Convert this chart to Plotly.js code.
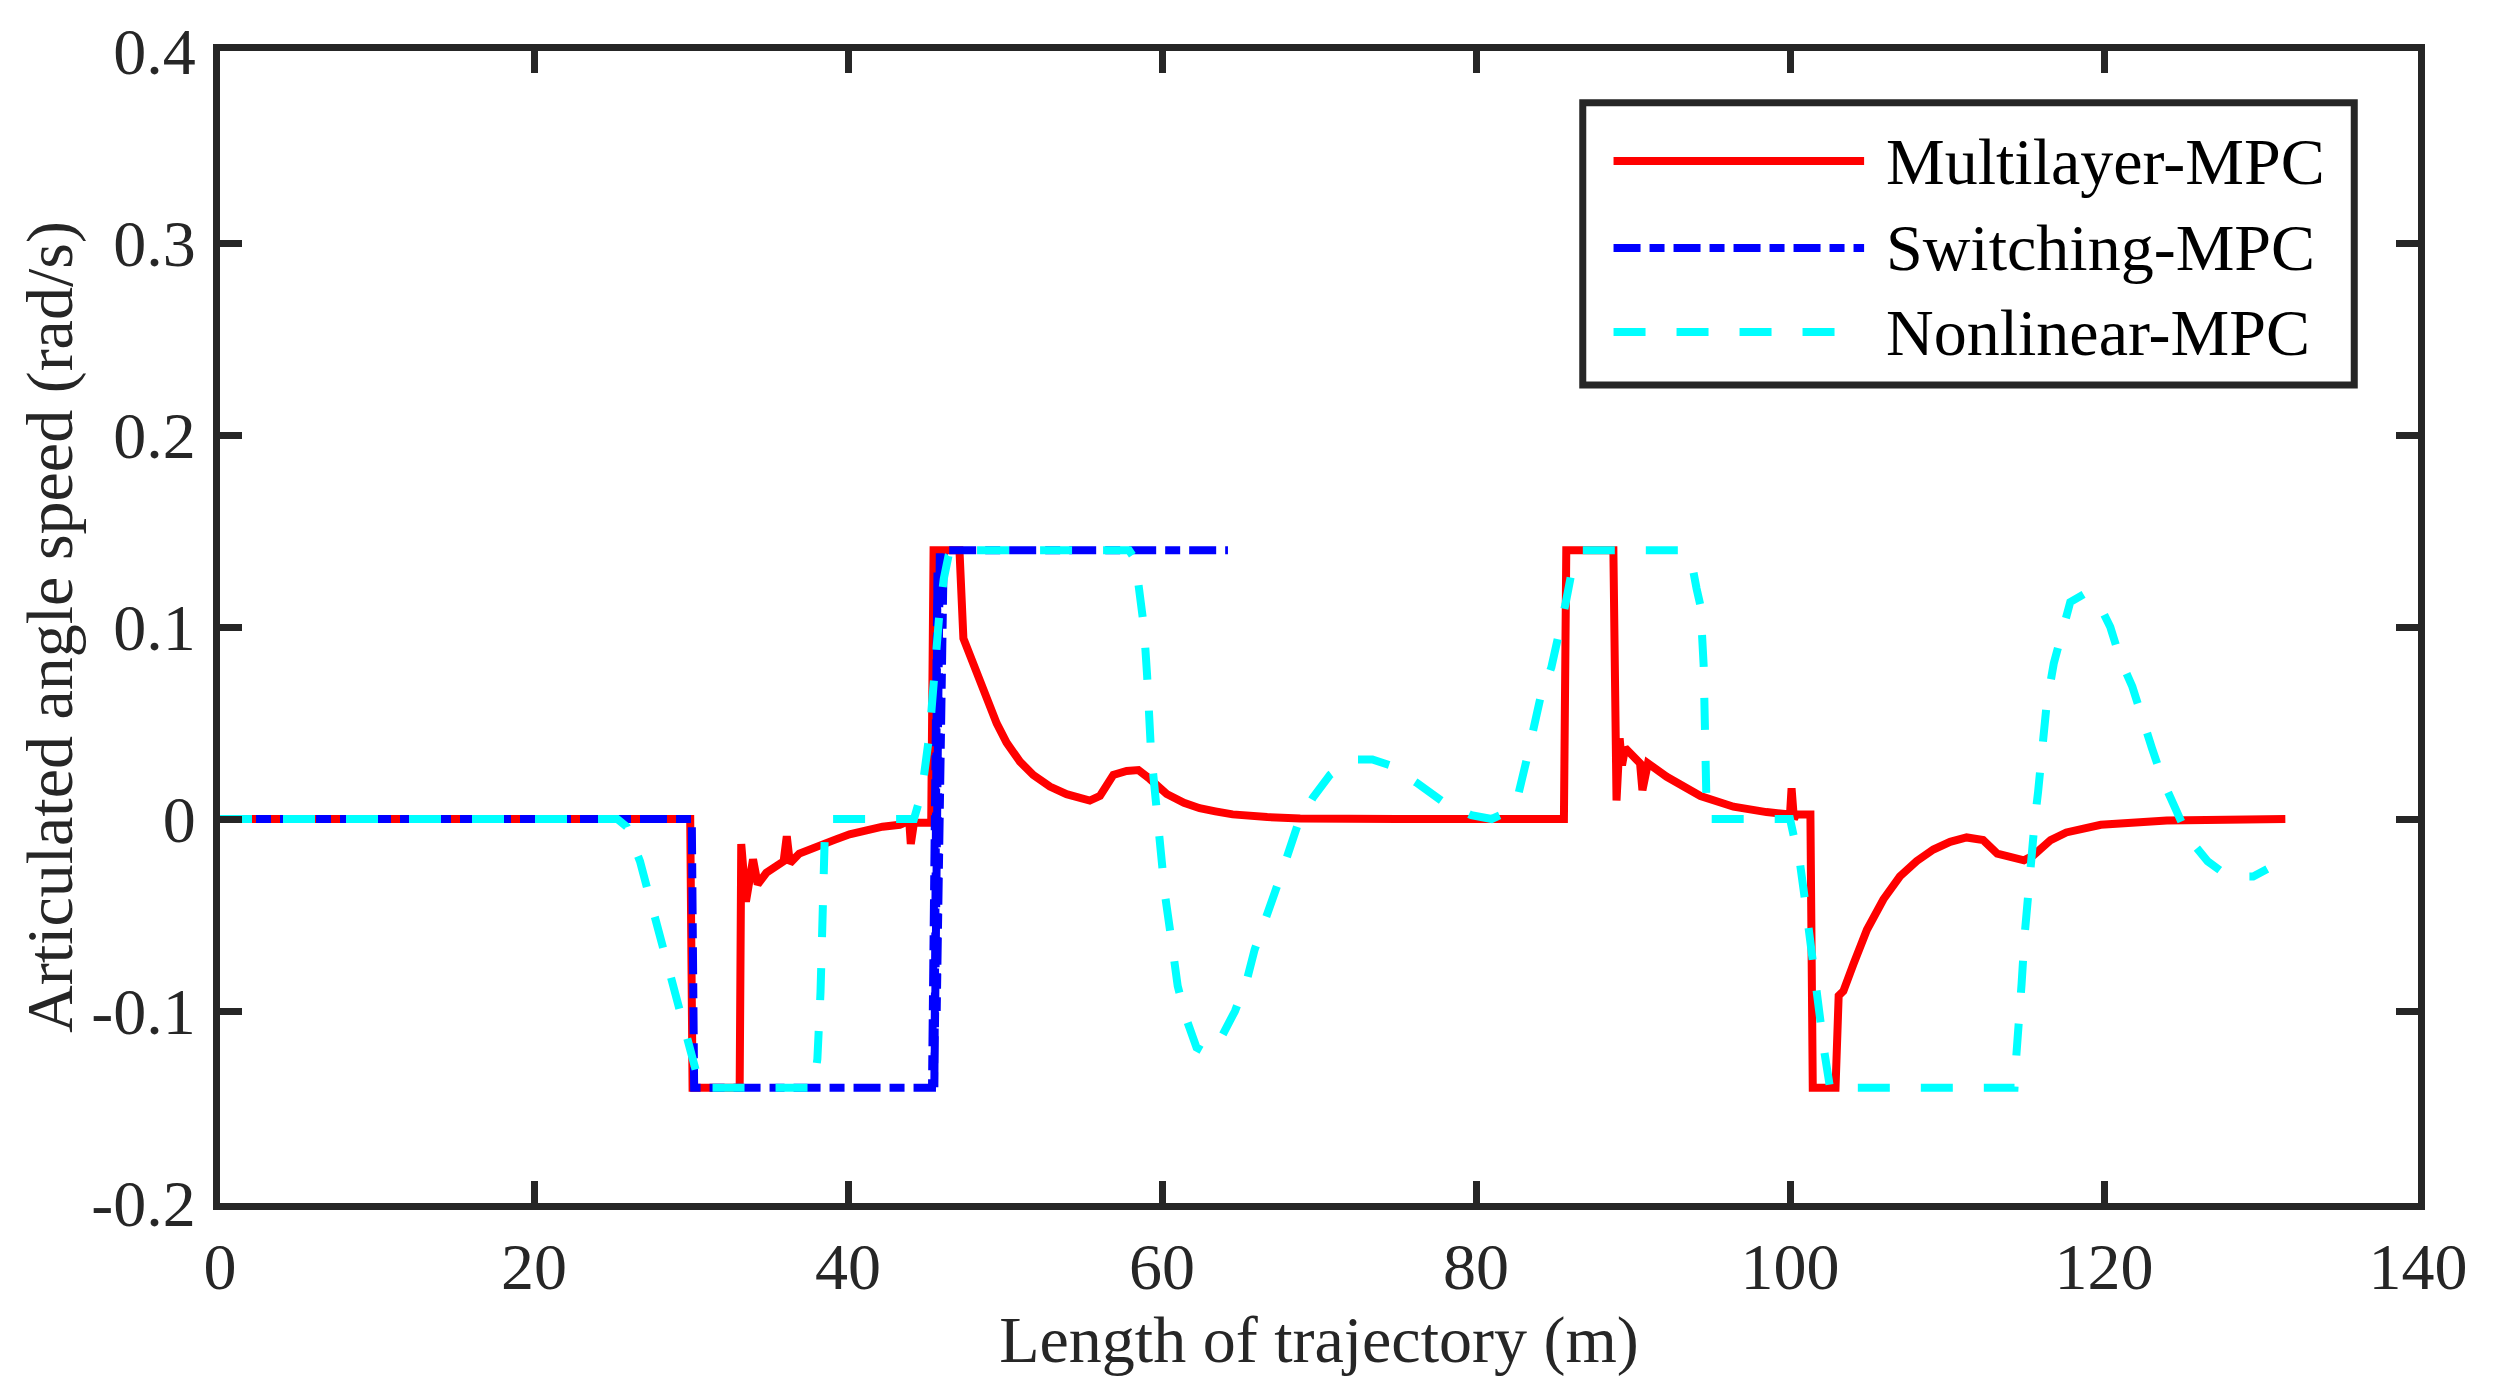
<!DOCTYPE html>
<html>
<head>
<meta charset="utf-8">
<script src="https://cdn.plot.ly/plotly-3.0.1.min.js"></script>
<style>
  html, body { margin: 0; padding: 0; background: #fff; }
  #chart { width: 2498px; height: 1396px; }
</style>
</head>
<body>
<div id="chart"></div>
<script>
// Multilayer-MPC (red, solid)
const multiX = [0, 29.95, 30.1, 33.1, 33.2, 33.5, 33.95, 34.25, 34.8, 35.9, 36.1, 36.3, 36.9,
    38.0, 39.1, 40.1, 41.2, 42.2, 43.3, 43.9, 44.0, 44.2, 45.3, 45.45, 45.6, 47.1, 47.35,
    47.55, 48.19, 48.83, 49.47, 50.1, 50.95, 51.8, 52.86, 53.92, 55.4, 56.05, 56.9, 57.75,
    58.5, 59.2, 60.3, 61.4, 62.4, 63.4, 64.5, 66.7, 68.8, 75, 85.6, 85.75, 88.75, 88.95,
    89.15, 89.3, 89.5, 90.45, 90.6, 90.95, 92.15, 94.3, 96.4, 98.5, 100.0, 100.1, 100.25,
    100.4, 101.3, 101.45, 102.9, 103.1, 103.4, 104.04, 104.9, 105.95, 107.0, 108.07, 109.13,
    110.2, 111.25, 112.3, 113.2, 114.9, 115.5, 116.6, 117.6, 119.8, 121.9, 124.0, 131.55];
const multiY = [0, 0, -0.14, -0.14, -0.013, -0.043, -0.021, -0.034, -0.028, -0.022, -0.009,
    -0.023, -0.018, -0.014, -0.011, -0.008, -0.0056, -0.004, -0.003, -0.001, -0.013, -0.002,
    -0.002, 0.14, 0.14, 0.14, 0.094, 0.0896, 0.0756, 0.0617, 0.0498, 0.0398, 0.0299, 0.0229,
    0.0169, 0.0129, 0.0096, 0.012, 0.023, 0.025, 0.0255, 0.021, 0.013, 0.0084, 0.0056, 0.004,
    0.0024, 0.001, 0.0003, 0, 0, 0.14, 0.14, 0.0096, 0.042, 0.028, 0.037, 0.029, 0.015, 0.029,
    0.022, 0.012, 0.0064, 0.0036, 0.0024, 0.016, 0, 0.0024, 0.0024, -0.14, -0.14, -0.092,
    -0.0896, -0.0756, -0.0577, -0.0418, -0.0299, -0.0219, -0.0159, -0.0119, -0.0096, -0.011,
    -0.018, -0.0215, -0.019, -0.011, -0.007, -0.003, -0.0014, -0.0008, 0];

// Switching-MPC (blue, dash-dot)
const switchX = [0, 30.05, 30.2, 45.35, 45.7, 45.5, 45.85, 45.65, 46.1, 46.3, 64.2];
const switchY = [0, 0, -0.14, -0.14, 0.13, -0.14, 0.14, -0.1, 0.14, 0.14, 0.14];

// Nonlinear-MPC (cyan, dashed)
const nonlinX = [0, 25.3, 25.9, 26.75, 27.5, 28.3, 29.0, 29.7, 30.4, 30.6, 37.8, 38.05, 38.25,
    38.4, 38.55, 44.2, 44.7, 45.2, 45.5, 45.8, 46.1, 46.4, 46.7, 57.9, 58.3, 58.6, 58.85,
    59.05, 59.3, 59.6, 59.9, 60.2, 60.6, 61.0, 61.5, 62.2, 62.85, 63.7, 64.65, 65.4, 65.9,
    66.5, 67.2, 67.95, 68.6, 69.6, 70.7, 71.5, 72.4, 73.4, 74.5, 76.2, 77.9, 79.7, 81.0,
    81.8, 82.7, 83.2, 83.65, 84.1, 84.8, 85.3, 85.7, 86.1, 86.7, 93.2, 93.7, 94.05, 94.3,
    94.5, 94.55, 94.6, 94.7, 100.0, 100.2, 100.65, 101.0, 101.3, 101.7, 101.9, 102.2, 102.55,
    114.3, 114.4, 114.55, 114.75, 114.95, 115.2, 115.4, 115.6, 115.8, 116.05, 116.35, 116.8,
    117.3, 117.85, 118.7, 119.55, 120.4, 121.05, 121.8, 122.4, 123.05, 123.8, 124.55, 125.4,
    126.6, 127.6, 128.6, 129.5, 130.4];
const nonlinY = [0, 0, -0.004, -0.022, -0.045, -0.07, -0.093, -0.115, -0.136, -0.14, -0.14,
    -0.125, -0.09, -0.03, 0, 0, 0.014, 0.045, 0.08, 0.105, 0.125, 0.137, 0.14, 0.14, 0.135,
    0.118, 0.1, 0.075, 0.035, 0.01, -0.02, -0.04, -0.063, -0.087, -0.103, -0.119, -0.122,
    -0.115, -0.1, -0.084, -0.068, -0.055, -0.038, -0.02, -0.004, 0.011, 0.023, 0.028, 0.031,
    0.031, 0.028, 0.019, 0.009, 0.002, 0, 0.003, 0.013, 0.03, 0.046, 0.063, 0.079, 0.096,
    0.112, 0.129, 0.14, 0.14, 0.135, 0.12, 0.111, 0.08, 0.046, 0.012, 0, 0, -0.008, -0.024,
    -0.045, -0.065, -0.09, -0.106, -0.122, -0.14, -0.14, -0.125, -0.1, -0.086, -0.06, -0.034,
    -0.019, 0, 0.014, 0.035, 0.06, 0.081, 0.098, 0.113, 0.117, 0.114, 0.1, 0.083, 0.069,
    0.052, 0.037, 0.019, 0.006, -0.01, -0.022, -0.028, -0.03, -0.03, -0.026];

const xTicks = [0, 20, 40, 60, 80, 100, 120, 140];
const yTicks = [-0.2, -0.1, 0, 0.1, 0.2, 0.3, 0.4];
const yTickText = ['-0.2', '-0.1', '0', '0.1', '0.2', '0.3', '0.4'];
const seriesNames = ['Multilayer-MPC', 'Switching-MPC', 'Nonlinear-MPC'];

const RED = '#ff0000';
const BLUE = '#0000ff';
const CYAN = '#00ffff';
const AXIS = '#262626';
const FONT = 'Liberation Serif, Times New Roman, serif';
const DASH_DOT = '27px,9px,15px,9px';
const DASHED = '32px,31px';
const LW = 8;

const traces = [
    { x: multiX, y: multiY, name: seriesNames[0], type: 'scatter', mode: 'lines',
      line: { color: RED, width: LW } },
    { x: switchX, y: switchY, name: seriesNames[1], type: 'scatter', mode: 'lines',
      line: { color: BLUE, width: LW, dash: DASH_DOT } },
    { x: nonlinX, y: nonlinY, name: seriesNames[2], type: 'scatter', mode: 'lines',
      line: { color: CYAN, width: LW, dash: DASHED } },
];

const axisStyle = {
    showline: true, linewidth: 7, linecolor: AXIS, mirror: 'allticks',
    ticks: 'inside', ticklen: 22, tickwidth: 7, tickcolor: AXIS,
    showgrid: false, zeroline: false,
    tickfont: { family: FONT, size: 66, color: AXIS },
};

// hand-built legend box, like the matlab one (long line samples)
const legendStyles = [
    { color: RED, dash: 'solid' },
    { color: BLUE, dash: DASH_DOT },
    { color: CYAN, dash: DASHED },
];
const legendRows = [0.9045, 0.829, 0.756];

const shapes = [{
    type: 'rect', xref: 'paper', yref: 'paper', x0: 0.620, x1: 0.971, y0: 0.710, y1: 0.955,
    line: { color: AXIS, width: 7 }, fillcolor: '#ffffff', layer: 'above',
}];
const annotations = [];
legendStyles.forEach((s, i) => {
    shapes.push({
        type: 'line', xref: 'paper', yref: 'paper', x0: 0.634, x1: 0.748,
        y0: legendRows[i], y1: legendRows[i], layer: 'above',
        line: { color: s.color, width: LW, dash: s.dash },
    });
    annotations.push({
        xref: 'paper', yref: 'paper', x: 0.757, y: legendRows[i],
        xanchor: 'left', yanchor: 'middle', showarrow: false, text: seriesNames[i],
        font: { family: FONT, size: 66, color: '#000000' },
    });
});

const layout = {
    width: 2498, height: 1396,
    margin: { l: 220, r: 80, t: 51, b: 193 },
    paper_bgcolor: '#ffffff', plot_bgcolor: '#ffffff',
    showlegend: false,
    xaxis: Object.assign({}, axisStyle, {
        range: [0, 140], tickvals: xTicks,
        title: { text: 'Length of trajectory (m)', font: { family: FONT, size: 66, color: AXIS }, standoff: 0 },
    }),
    yaxis: Object.assign({}, axisStyle, {
        range: [-0.2, 0.4], tickvals: yTicks, ticktext: yTickText, ticklabelstandoff: 4,
        title: { text: 'Articulated angle speed (rad/s)', font: { family: FONT, size: 66, color: AXIS }, standoff: 0 },
    }),
    shapes: shapes,
    annotations: annotations,
};

Plotly.newPlot('chart', traces, layout, { staticPlot: true });
</script>
</body>
</html>
